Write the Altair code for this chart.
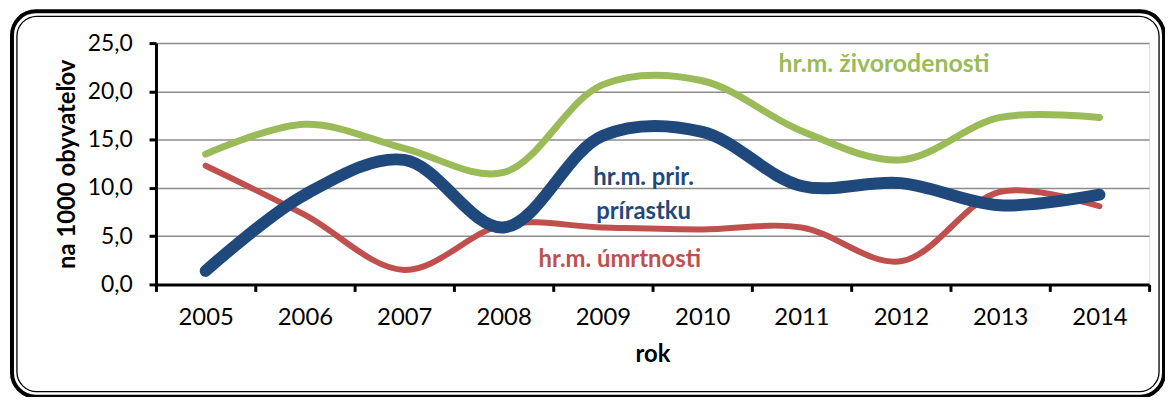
import altair as alt
import pandas as pd

years = ['2005', '2006', '2007', '2008', '2009', '2010', '2011', '2012', '2013', '2014']
zivorodenost = [13.5, 16.6, 14.1, 11.6, 20.7, 21.1, 15.9, 12.9, 17.3, 17.3]
umrtnost = [12.3, 7.2, 1.5, 6.2, 5.9, 5.7, 5.9, 2.4, 9.6, 8.1]
prirastok = [1.4, 9.3, 12.9, 5.9, 15.4, 15.8, 10.2, 10.5, 8.2, 9.3]

label_texts = ['hr.m. živorodenosti', 'hr.m. prir.', 'prírastku', 'hr.m. úmrtnosti']
label_years = ['2012', '2010', '2010', '2009']
label_values = [22.8, 11.0, 7.5, 2.5]
label_series = ['z', 'p', 'p', 'u']
label_dx = [-17, -59, -59, 17]
label_size = [25, 24, 24, 24]

colors = {'z': '#9BBB59', 'u': '#C0504D', 'p': '#1F497D'}
FONT = 'Lato'

W, H = 1000, 243

df = pd.DataFrame({
    'rok': years * 3,
    'v': zivorodenost + umrtnost + prirastok,
    's': ['z'] * 10 + ['u'] * 10 + ['p'] * 10,
})
lab = pd.DataFrame({'t': label_texts, 'rok': label_years, 'v': label_values,
                    's': label_series, 'dx': label_dx})

xenc = alt.X('rok:N', sort=years, title='rok',
             scale=alt.Scale(domain=years, paddingInner=0, paddingOuter=0),
             axis=alt.Axis(labelAngle=0, tickBand='extent', domainColor='black', domainWidth=3,
                           tickColor='black', tickWidth=3, tickSize=7, labelPadding=14,
                           labelFont=FONT, labelFontSize=24, labelColor='black',
                           titleFont=FONT, titleFontSize=24, titleFontWeight='bold',
                           titleColor='black', titlePadding=14, grid=False))
yenc = alt.Y('v:Q', title='na 1000 obyvateľov',
             scale=alt.Scale(domain=[0, 25], nice=False, zero=True),
             axis=alt.Axis(values=[0, 5, 10, 15, 20, 25],
                           labelExpr="replace(format(datum.value, '.1f'), '.', ',')",
                           domainColor='black', domainWidth=3, tickColor='black', tickWidth=3,
                           tickSize=7, labelPadding=17, labelFont=FONT, labelFontSize=23,
                           labelColor='black', titleFont=FONT, titleFontSize=24,
                           titleFontWeight='bold', titleColor='black', titlePadding=8,
                           gridColor='#8c8c8c', gridWidth=1.5))

base = alt.Chart(df)

def line(series, width):
    return base.transform_filter(alt.datum.s == series).mark_line(
        interpolate='catmull-rom', strokeWidth=width, strokeCap='round',
        color=colors[series]).encode(x=xenc, y=yenc)

lines = line('z', 7) + line('u', 6) + line('p', 12)

texts = alt.layer(*[
    alt.Chart(lab.iloc[[i]]).mark_text(font=FONT, fontSize=label_size[i], fontWeight='bold',
                                       color=colors[label_series[i]], dx=label_dx[i]).encode(
        x=alt.X('rok:N', sort=years), y=alt.Y('v:Q'), text='t:N')
    for i in range(len(label_texts))
])

one = pd.DataFrame({'a': [0]})
border_outer = alt.Chart(one).mark_rect(filled=False, stroke='black', strokeWidth=4,
                                        cornerRadius=24).encode(
    x=alt.value(-145), x2=alt.value(1015), y=alt.value(-32), y2=alt.value(356))
border_inner = alt.Chart(one).mark_rect(filled=False, stroke='black', strokeWidth=1.3,
                                        cornerRadius=20).encode(
    x=alt.value(-140), x2=alt.value(1010), y=alt.value(-27), y2=alt.value(351))

chart = alt.layer(lines, texts, border_outer, border_inner).properties(
    width=W, height=H,
    autosize=alt.AutoSizeParams(type='none'),
    padding={'left': 149, 'top': 34, 'right': 16, 'bottom': 112},
).configure_view(stroke=None).configure(background='white')

chart.save('out.html', embed_options={'renderer': 'svg', 'actions': False})
